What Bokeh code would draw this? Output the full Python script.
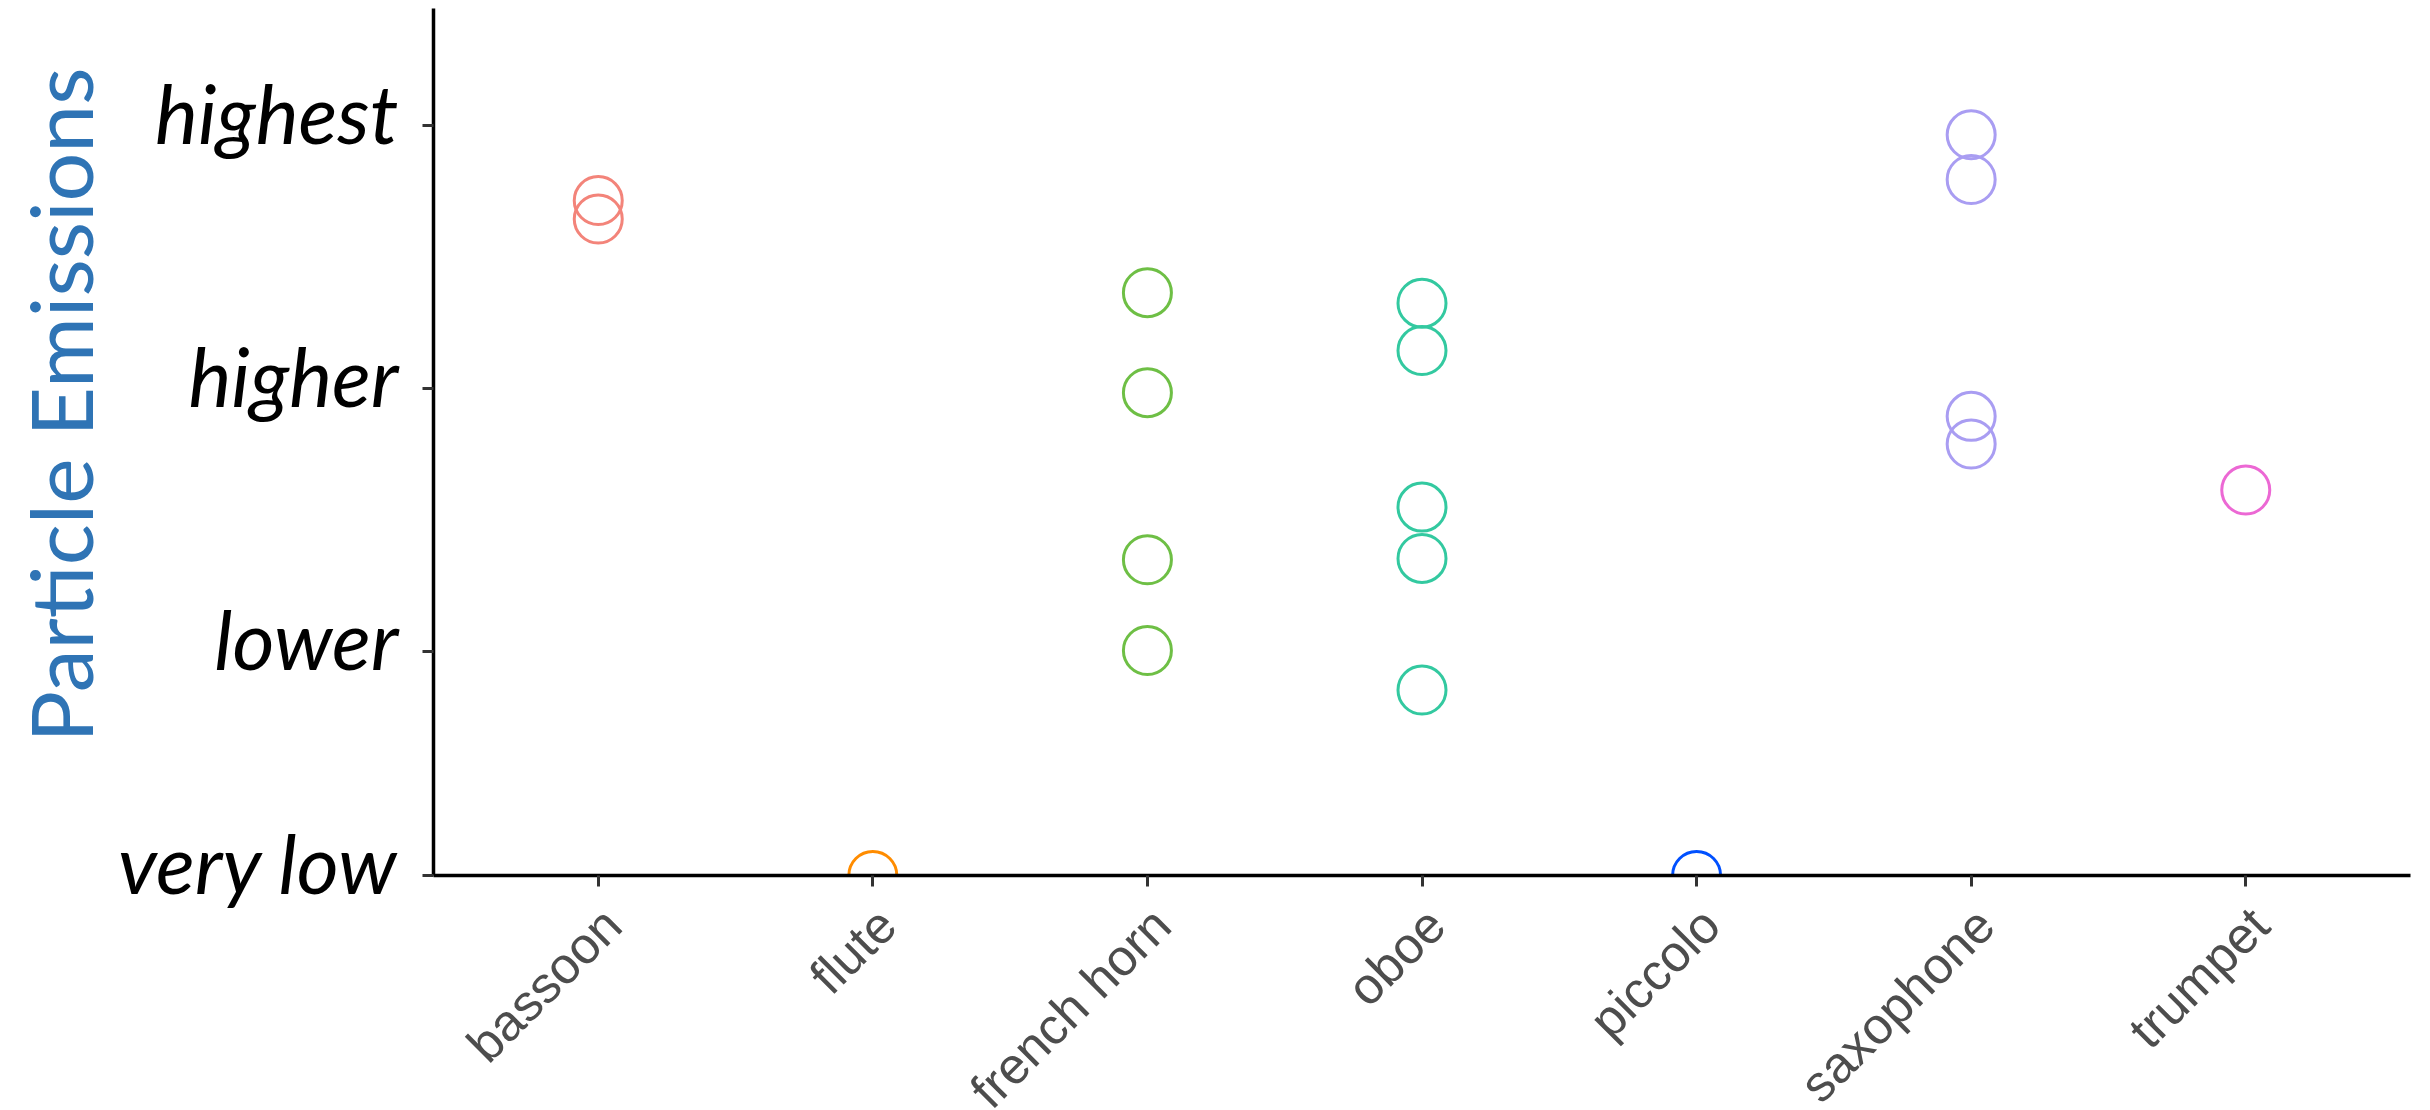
import math
from bokeh.plotting import figure
from bokeh.models import Range1d, FixedTicker, Title, LinearAxis
from bokeh.embed import file_html
from bokeh.resources import INLINE

# ---- data ----
instruments = ["bassoon", "flute", "french horn", "oboe", "piccolo", "saxophone", "trumpet"]
colors = {
    "bassoon": "#F3847A",
    "flute": "#FF8C00",
    "french horn": "#6EBF45",
    "oboe": "#33C9A0",
    "piccolo": "#0050FF",
    "saxophone": "#A99DF2",
    "trumpet": "#EC68D4",
}
bassoon = [51.3, 49.9]
flute = [0.0]
french_horn = [44.3, 36.7, 24.0, 17.1]
oboe = [43.5, 39.9, 28.0, 24.1, 14.1]
piccolo = [0.0]
saxophone = [56.3, 52.9, 34.9, 32.8]
trumpet = [29.3]
series = {
    "bassoon": bassoon, "flute": flute, "french horn": french_horn, "oboe": oboe,
    "piccolo": piccolo, "saxophone": saxophone, "trumpet": trumpet,
}
tick_values = [0, 17, 37, 57]
tick_labels = ["very low", "lower", "higher", "highest"]
y_title = "Particle Emissions"

n = len(instruments)
xpos = [i + 0.5 for i in range(n)]          # category centres
xs, ys, cs = [], [], []
for i, k in enumerate(instruments):
    for v in series[k]:
        xs.append(xpos[i])
        ys.append(v)
        cs.append(colors[k])

Y_END = 65.9
X_PAD = 0.1
p = figure(
    x_range=Range1d(-X_PAD, n + X_PAD),
    y_range=Range1d(0, Y_END),
    frame_width=1977, frame_height=867,
    output_backend="svg", toolbar_location=None,
    min_border_left=433, min_border_right=4, min_border_top=8, min_border_bottom=200,
)
p.scatter(x=xs, y=ys, marker="circle", size=48, fill_color=None, line_color=cs, line_width=3)

p.grid.visible = False
p.outline_line_color = None
p.background_fill_color = "white"
p.border_fill_color = "white"

# shifted ranges for label-only axes
y_shift = 1.0
x_shift = 0.052
p.extra_y_ranges = {"ylab": Range1d(-y_shift, Y_END - y_shift)}
p.extra_x_ranges = {"xlab": Range1d(-X_PAD - x_shift, n + X_PAD - x_shift)}

# y axis: line + ticks only
ya = p.yaxis[0]
ya.ticker = FixedTicker(ticks=tick_values)
ya.major_label_text_font_size = "1px"
ya.major_label_text_color = None
ya.major_label_standoff = 0
ya.axis_line_width = 3.5
ya.axis_line_color = "black"
ya.major_tick_line_width = 3
ya.major_tick_line_color = "#333333"
ya.major_tick_in = 0
ya.major_tick_out = 11
ya.minor_tick_line_color = None

# y labels
yl = LinearAxis(y_range_name="ylab")
yl.ticker = FixedTicker(ticks=tick_values)
yl.major_label_overrides = {v: t for v, t in zip(tick_values, tick_labels)}
yl.major_label_text_font = "Lato"
yl.major_label_text_font_style = "italic"
yl.major_label_text_font_size = "81px"
yl.major_label_text_color = "black"
yl.major_label_standoff = 24
yl.axis_line_color = None
yl.major_tick_line_color = None
yl.major_tick_in = 0
yl.major_tick_out = 0
yl.minor_tick_line_color = None
p.add_layout(yl, "left")

# x axis: line + ticks only
xa = p.xaxis[0]
xa.ticker = FixedTicker(ticks=xpos)
xa.major_label_text_font_size = "1px"
xa.major_label_text_color = None
xa.major_label_standoff = 0
xa.axis_line_width = 3.5
xa.axis_line_color = "black"
xa.major_tick_line_width = 3
xa.major_tick_line_color = "#333333"
xa.major_tick_in = 0
xa.major_tick_out = 11
xa.minor_tick_line_color = None

# x labels
xl = LinearAxis(x_range_name="xlab")
xl.ticker = FixedTicker(ticks=xpos)
xl.major_label_overrides = {v: t for v, t in zip(xpos, instruments)}
xl.major_label_orientation = math.pi / 4
xl.major_label_text_font = "Liberation Sans"
xl.major_label_text_font_size = "51px"
xl.major_label_text_color = "#4D4D4D"
xl.major_label_standoff = 30
xl.axis_line_color = None
xl.major_tick_line_color = None
xl.major_tick_in = 0
xl.major_tick_out = 0
xl.minor_tick_line_color = None
p.add_layout(xl, "below")

# y title
yt = Title(
    text=y_title, align="left", offset=133, vertical_align="bottom", standoff=10,
    text_font="Lato", text_font_size="86px", text_font_style="normal", text_color="#2F74B5",
)
p.add_layout(yt, "left")

open("out.html", "w").write(file_html(p, INLINE))
